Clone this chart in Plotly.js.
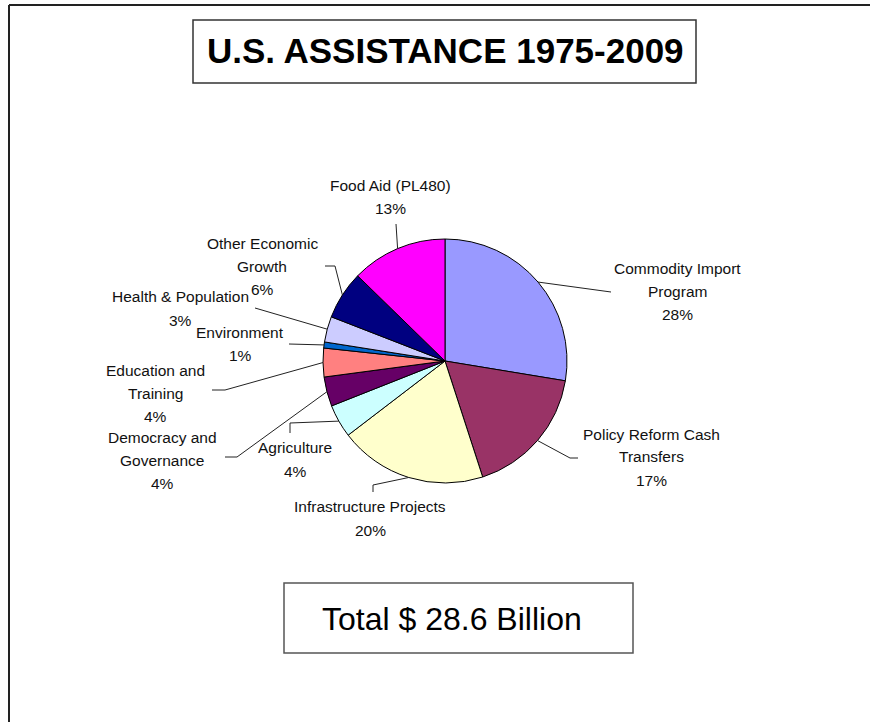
<!DOCTYPE html>
<html>
<head>
<meta charset="utf-8">
<script src="https://cdn.plot.ly/plotly-3.0.1.min.js"></script>
<style>html,body{margin:0;padding:0;background:#fff;}#chart{width:870px;height:722px;}</style>
</head>
<body>
<div id="chart"></div>
<script>
// ---- data ----
const labels = ['Commodity Import Program', 'Policy Reform Cash Transfers', 'Infrastructure Projects',
  'Agriculture', 'Democracy and Governance', 'Education and Training', 'Environment',
  'Health & Population', 'Other Economic Growth', 'Food Aid (PL480)'];
const values = [27.6, 17.4, 19.6, 4.4, 3.9, 3.8, 0.8, 3.4, 6.4, 12.7];
const titleText = 'U.S. ASSISTANCE 1975-2009';
const totalText = 'Total $ 28.6 Billion';

// ---- styles / layout ----
const colors = ['#9999FF', '#993366', '#FFFFCC', '#CCFFFF', '#660066', '#FF8080', '#0066CC',
  '#CCCCFF', '#000080', '#FF00FF'];
const W = 870, H = 722;
const CX = 445, CY = 361, R = 122;
// words on first line of each label
const wrapWords = [2, 3, 0, 0, 2, 2, 0, 0, 2, 0];
// label centre x, first-line centre y (pixels)
const labelPos = [[677, 268], [651, 434], [370, 507], [295, 448], [162, 437], [155, 370],
  [240, 332], [180, 297], [262, 243], [390, 185]];
// leader line points after the slice edge point (pixels)
const leaders = [
  [[611, 292]],
  [[570, 458], [578, 458]],
  [[373, 485], [373, 492]],
  [[290, 423], [290, 433]],
  [[237, 457], [225, 457]],
  [[225, 390], [212, 390]],
  [[289, 344]],
  [[255, 308]],
  [[335, 266], [325, 266]],
  [[396, 224]]
];
const lineGap = 23;
const FONT = 'Liberation Sans, Arial, sans-serif';

const px = x => x / W;
const py = y => 1 - y / H;

const total = values.reduce((a, b) => a + b, 0);
const shapes = [];
const annotations = [];

// frame
shapes.push({type: 'line', xref: 'paper', yref: 'paper', x0: px(9), x1: px(W), y0: py(5), y1: py(5), line: {color: '#222', width: 2}});
shapes.push({type: 'line', xref: 'paper', yref: 'paper', x0: px(9), x1: px(9), y0: py(5), y1: py(H), line: {color: '#222', width: 2}});
// title box
shapes.push({type: 'rect', xref: 'paper', yref: 'paper', x0: px(193), x1: px(696), y0: py(20), y1: py(83), line: {color: '#333', width: 1.5}, fillcolor: 'rgba(0,0,0,0)'});
annotations.push({xref: 'paper', yref: 'paper', x: px(445), y: py(51), xanchor: 'center', yanchor: 'middle', showarrow: false,
  text: '<b>' + titleText + '</b>', font: {family: FONT, size: 35, color: '#000'}});
// total box
shapes.push({type: 'rect', xref: 'paper', yref: 'paper', x0: px(284), x1: px(633), y0: py(583), y1: py(653), line: {color: '#555', width: 1.5}, fillcolor: 'rgba(0,0,0,0)'});
annotations.push({xref: 'paper', yref: 'paper', x: px(452), y: py(619), xanchor: 'center', yanchor: 'middle', showarrow: false,
  text: totalText, font: {family: FONT, size: 32, color: '#000'}});

// labels and leader lines
let cum = 0;
values.forEach((v, i) => {
  const mid = (cum + v / 2) / total * 2 * Math.PI;
  cum += v;
  const ex = CX + R * Math.sin(mid), ey = CY - R * Math.cos(mid);
  let d = 'M' + px(ex) + ',' + py(ey);
  leaders[i].forEach(p => { d += ' L' + px(p[0]) + ',' + py(p[1]); });
  shapes.push({type: 'path', xref: 'paper', yref: 'paper', path: d, line: {color: '#222', width: 1}});

  const words = labels[i].split(' ');
  const lines = wrapWords[i] ? [words.slice(0, wrapWords[i]).join(' '), words.slice(wrapWords[i]).join(' ')] : [labels[i]];
  lines.push(Math.round(v / total * 100) + '%');
  lines.forEach((t, k) => {
    annotations.push({xref: 'paper', yref: 'paper', x: px(labelPos[i][0]), y: py(labelPos[i][1] + k * lineGap),
      xanchor: 'center', yanchor: 'middle', showarrow: false, text: t,
      font: {family: FONT, size: 15.5, color: '#111'}});
  });
});

const trace = {
  type: 'pie', labels: labels, values: values, sort: false, direction: 'clockwise', rotation: 0,
  marker: {colors: colors, line: {color: '#000', width: 1}},
  textinfo: 'none', hoverinfo: 'skip', showlegend: false,
  domain: {x: [px(CX - R), px(CX + R)], y: [py(CY + R), py(CY - R)]}
};

Plotly.newPlot('chart', [trace], {
  width: W, height: H, margin: {l: 0, r: 0, t: 0, b: 0},
  paper_bgcolor: '#fff', plot_bgcolor: '#fff', showlegend: false,
  shapes: shapes, annotations: annotations
}, {displayModeBar: false, staticPlot: true});
</script>
</body>
</html>
